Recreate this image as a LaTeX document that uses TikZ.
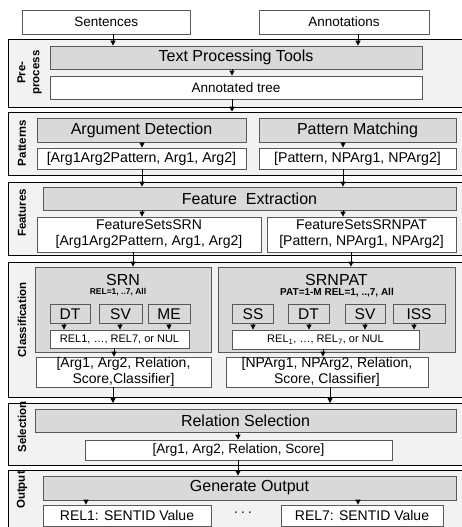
\documentclass[tikz,border=0pt]{standalone}
\usepackage{fontspec}
\setmainfont{Liberation Sans}
\usetikzlibrary{arrows.meta}
\definecolor{panelfill}{HTML}{F2F2F2}
\definecolor{boxgray}{HTML}{D9D9D9}
\definecolor{boxline}{HTML}{595959}
\tikzset{
  panel/.style={draw=black, line width=1.1pt, fill=panelfill, anchor=north west, inner sep=0pt},
  wbox/.style={draw=boxline, line width=0.8pt, fill=white, inner sep=0pt, align=center, font=\fontsize{13.5}{15}\selectfont},
  gbox/.style={draw=boxline, line width=0.8pt, fill=boxgray, inner sep=0pt, align=center, font=\fontsize{16}{18}\selectfont},
  sbox/.style={gbox, font=\fontsize{15.5}{17}\selectfont, minimum height=18.5pt},
  relbox/.style={wbox, font=\fontsize{11}{12}\selectfont},
  plabel/.style={rotate=90, font=\bfseries\fontsize{11.5}{14}\selectfont, align=center, inner sep=0pt},
  arr/.style={draw=black, line width=0.8pt, -{Triangle[length=5pt,width=5pt]}},
}
\begin{document}
\begin{tikzpicture}[x=1pt,y=-1pt]
\useasboundingbox (0,0) rectangle (461,527);
\fill[white] (0,0) rectangle (461,527);
% panels
\node[panel, minimum width=470pt, minimum height=68.3pt] (p1) at (8,39) {};
\node[panel, minimum width=470pt, minimum height=63.3pt] (p2) at (8,111.7) {};
\node[panel, minimum width=470pt, minimum height=73.5pt] (p3) at (8,181.5) {};
\node[panel, minimum width=470pt, minimum height=135pt] (p4) at (8,262) {};
\node[panel, minimum width=470pt, minimum height=62pt] (p5) at (8,403) {};
\node[panel, minimum width=470pt, minimum height=62pt] (p6) at (8,469.5) {};
% panel labels
\node[plabel] (l1) at (29.5,72.5) {Pre-\\process};
\node[plabel] (l2) at (22,143) {Patterns};
\node[plabel] (l3) at (22,213) {Features};
\node[plabel] (l4) at (22,320) {Classification};
\node[plabel] (l5) at (22,427) {Selection};
\node[plabel] (l6) at (22,490) {Output};
% inputs
\node[wbox, minimum width=167.3pt, minimum height=24pt] (sent) at (106.3,22) {Sentences};
\node[wbox, minimum width=170pt, minimum height=24pt] (annot) at (344,22) {Annotations};
% preprocess
\node[gbox, minimum width=372pt, minimum height=23pt] (tpt) at (236,57.5) {Text Processing Tools};
\node[wbox, minimum width=372pt, minimum height=23pt] (atree) at (236,87.5) {Annotated tree};
% patterns
\node[gbox, minimum width=209pt, minimum height=24pt] (argdet) at (141.5,130) {Argument Detection};
\node[gbox, minimum width=197pt, minimum height=24pt] (patmatch) at (357.5,130) {Pattern Matching};
\node[wbox, font=\fontsize{14.2}{16}\selectfont, minimum width=209pt, minimum height=21pt] (argout) at (141.5,158.5) {{[Arg1Arg2Pattern, Arg1, Arg2]}};
\node[wbox, font=\fontsize{14.2}{16}\selectfont, minimum width=197pt, minimum height=21pt] (patout) at (357.5,158.5) {{[Pattern, NPArg1, NPArg2]}};
% features
\node[gbox, minimum width=413pt, minimum height=23pt] (featext) at (249.5,198.5) {Feature\ \ Extraction};
\node[wbox, font=\fontsize{14}{16}\selectfont, minimum width=224pt, minimum height=35pt] (fsrn) at (149,234.5) {FeatureSetsSRN\\{}{[Arg1Arg2Pattern, Arg1, Arg2]}};
\node[wbox, font=\fontsize{14}{16}\selectfont, minimum width=189pt, minimum height=35pt] (fsrnpat) at (361.5,234.5) {FeatureSetsSRNPAT\\{}{[Pattern, NPArg1, NPArg2]}};
% classification
\node[gbox, minimum width=176pt, minimum height=85pt] (srn) at (123,309.5) {};
\node[gbox, minimum width=237pt, minimum height=85pt] (srnpat) at (336.5,309.5) {};
\node[inner sep=0pt, font=\fontsize{16}{18}\selectfont] (srnt) at (123,279.5) {SRN};
\node[inner sep=0pt, font=\bfseries\fontsize{8.5}{10}\selectfont] (srns) at (118,292.5) {REL=1, ..7, All};
\node[inner sep=0pt, font=\fontsize{16}{18}\selectfont] (srnpatt) at (336.5,279.5) {SRNPAT};
\node[inner sep=0pt, font=\bfseries\fontsize{10}{11}\selectfont] (srnpats) at (337,292.5) {PAT=1-M REL=1, ..,7, All};
\node[sbox, minimum width=40pt] (dt1) at (70,314) {DT};
\node[sbox, minimum width=43pt] (sv1) at (120.5,314) {SV};
\node[sbox, minimum width=42pt] (me1) at (169,314) {ME};
\node[relbox, minimum width=139pt, minimum height=18pt] (rel1) at (119.5,339) {REL1, \ldots, REL7, or NUL};
\node[sbox, minimum width=40.7pt] (ss) at (253,314) {SS};
\node[sbox, minimum width=41pt] (dt2) at (308.5,314) {DT};
\node[sbox, minimum width=40pt] (sv2) at (365,314) {SV};
\node[sbox, minimum width=52pt] (iss) at (419,314) {ISS};
\node[relbox, minimum width=187pt, minimum height=19pt] (rel2) at (325.5,339.5) {REL\textsubscript{1}, \ldots, REL\textsubscript{7}, or NUL};
\node[wbox, font=\fontsize{14}{16}\selectfont, minimum width=175pt, minimum height=30pt] (res1) at (123.5,372) {{[Arg1, Arg2, Relation,}\\{}{Score,Classifier]}};
\node[wbox, font=\fontsize{14}{16}\selectfont, minimum width=202pt, minimum height=30pt] (res2) at (327,372) {{[NPArg1, NPArg2, Relation,}\\{}{Score, Classifier]}};
% selection
\node[gbox, minimum width=421pt, minimum height=23pt] (relsel) at (245.5,420.5) {Relation Selection};
\node[wbox, minimum width=307pt, minimum height=20pt] (selout) at (238.5,450) {{[Arg1, Arg2, Relation, Score]}};
% output
\node[gbox, minimum width=413pt, minimum height=24pt] (genout) at (249.5,488) {Generate Output};
\node[wbox, font=\fontsize{14}{16}\selectfont, minimum width=168pt, minimum height=21pt] (o1) at (127,515.5) {REL1: SENTID Value};
\node[wbox, font=\fontsize{14}{16}\selectfont, minimum width=162pt, minimum height=21pt] (o7) at (362,515.5) {REL7: SENTID Value};
\node[inner sep=0pt, font=\fontsize{14}{16}\selectfont] (dots) at (243,514) {\textperiodcentered\,\textperiodcentered\,\textperiodcentered};
% arrow x positions
\coordinate (x113) at (113,0);
\coordinate (x358) at (358,0);
\coordinate (x232) at (232,0);
\coordinate (x142) at (142,0);
\coordinate (x343) at (343,0);
\coordinate (x133) at (133,0);
\coordinate (x351) at (351,0);
\coordinate (x64) at (64,0);
\coordinate (x120) at (120,0);
\coordinate (x169) at (169,0);
\coordinate (x253) at (253,0);
\coordinate (x309) at (309,0);
\coordinate (x365) at (365,0);
\coordinate (x414) at (414,0);
\coordinate (x114) at (114,0);
\coordinate (x323) at (323,0);
\coordinate (x330) at (330,0);
\coordinate (x238) at (238,0);
\coordinate (x86) at (86,0);
% arrows
\draw[arr] (sent.south -| x113) -- (tpt.north -| x113);
\draw[arr] (annot.south -| x358) -- (tpt.north -| x358);
\draw[arr] (tpt.south -| x232) -- (atree.north -| x232);
\draw[arr] (atree.south -| x232) -- (p2.north -| x232);
\draw[arr] (argdet.south -| x142) -- (argout.north -| x142);
\draw[arr] (patmatch.south -| x343) -- (patout.north -| x343);
\draw[arr] (argout.south -| x142) -- (featext.north -| x142);
\draw[arr] (patout.south -| x343) -- (featext.north -| x343);
\draw[arr] (featext.south -| x142) -- (fsrn.north -| x142);
\draw[arr] (featext.south -| x343) -- (fsrnpat.north -| x343);
\draw[arr] (fsrn.south -| x133) -- (srn.north -| x133);
\draw[arr] (fsrnpat.south -| x351) -- (srnpat.north -| x351);
\draw[arr] (dt1.south -| x64) -- (rel1.north -| x64);
\draw[arr] (sv1.south -| x120) -- (rel1.north -| x120);
\draw[arr] (me1.south -| x169) -- (rel1.north -| x169);
\draw[arr] (ss.south -| x253) -- (rel2.north -| x253);
\draw[arr] (dt2.south -| x309) -- (rel2.north -| x309);
\draw[arr] (sv2.south -| x365) -- (rel2.north -| x365);
\draw[arr] (iss.south -| x414) -- (rel2.north -| x414);
\draw[arr] (rel1.south -| x114) -- (res1.north -| x114);
\draw[arr] (rel2.south -| x323) -- (res2.north -| x323);
\draw[arr] (res1.south -| x113) -- (p5.north -| x113);
\draw[arr] (res2.south -| x330) -- (p5.north -| x330);
\draw[arr] (relsel.south -| x238) -- (selout.north -| x238);
\draw[arr] (selout.south -| x238) -- (genout.north -| x238);
\draw[arr] (genout.south -| x86) -- (o1.north -| x86);
\draw[arr] (genout.south -| x358) -- (o7.north -| x358);
\end{tikzpicture}
\end{document}
